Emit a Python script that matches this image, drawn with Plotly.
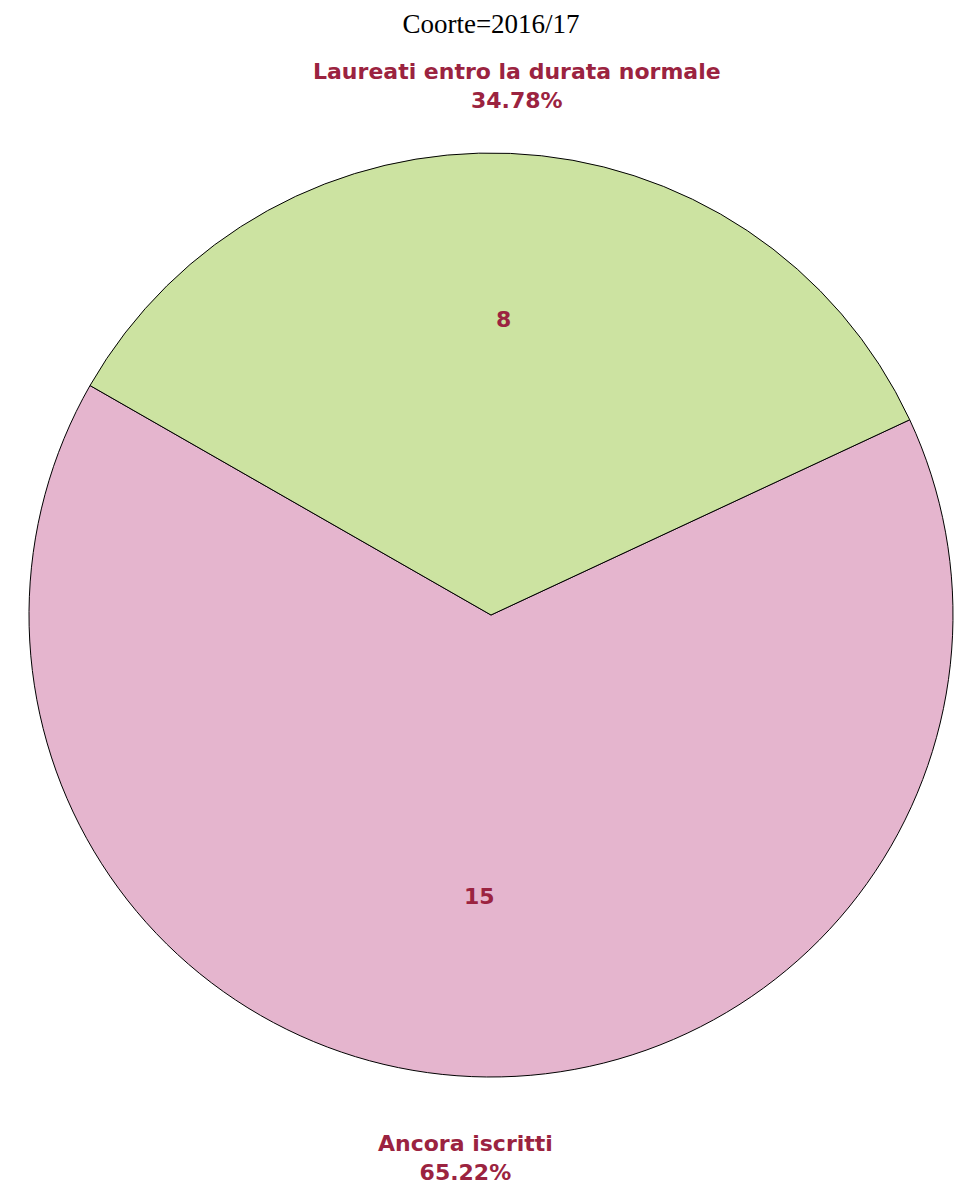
import math
import plotly.graph_objects as go

labels = ["Laureati entro la durata normale", "Ancora iscritti"]
values = [8, 15]
colors = ["#cce3a1", "#e5b5ce"]
title_text = "Coorte=2016/17"

text_color = "#9b2340"
label_font = dict(family="DejaVu Sans", size=22, color=text_color)

fig = go.Figure()
fig.add_trace(go.Pie(
    labels=labels,
    values=values,
    sort=True,
    direction="counterclockwise",
    rotation=65,
    marker=dict(colors=colors, line=dict(color="black", width=1)),
    textinfo="none",
    showlegend=False,
    hoverinfo="label+value+percent",
))

# value labels inside and label+percent outside, at each slice's mid-angle
total = sum(values)
order = sorted(range(len(values)), key=lambda i: -values[i])
rot = 65.0
start = rot + values[order[0]] / total * 360
annotations = []
cur = start
for i in order:
    span = values[i] / total * 360
    mid = cur - span / 2
    cur -= span
    rad = math.radians(mid)
    s, c = math.sin(rad), math.cos(rad)
    above = c > 0
    pct = values[i] / total * 100

    # inside value
    kin = 0.64 if above else 0.61
    annotations.append(dict(
        x=0.5 + 0.5 * kin * s, y=0.5 + 0.5 * kin * c, xref="paper", yref="paper",
        text=f"<b>{values[i]}</b>",
        showarrow=False, xanchor="center", yanchor="middle",
        font=label_font,
    ))

    # outside label + percent
    kx = 1.33
    ky = 1.084 if above else 1.113
    annotations.append(dict(
        x=0.5 + 0.5 * kx * s, y=0.5 + 0.5 * ky * c, xref="paper", yref="paper",
        text=f"<b>{labels[i]}<br>{pct:.2f}%</b>",
        showarrow=False,
        xanchor="center",
        yanchor="bottom" if above else "top",
        font=label_font,
    ))

fig.update_layout(
    width=955,
    height=1187,
    margin=dict(l=29, r=2, t=153, b=110),
    paper_bgcolor="white",
    plot_bgcolor="white",
    title=dict(text=title_text, x=0.5, xref="paper", y=1 - 24 / 1187, yref="container",
               xanchor="center", yanchor="middle",
               font=dict(family="Liberation Serif", size=27, color="black")),
    annotations=annotations,
)

fig.write_html(
    "out.html",
    config={"displayModeBar": False},
    post_script="document.body.style.margin='0';document.body.style.overflow='hidden';",
)
